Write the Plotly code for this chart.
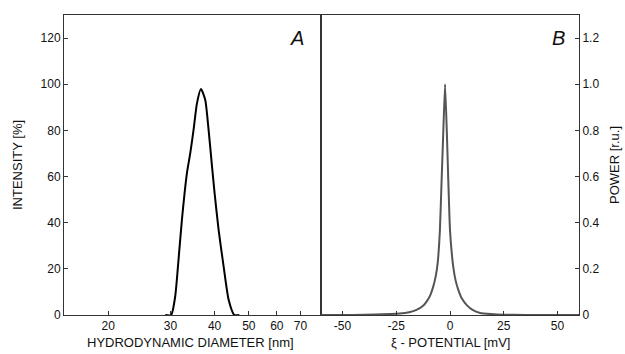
import plotly.graph_objects as go

# Panel A: DLS size distribution (intensity, %)
diameter_nm = [29.0, 30.14, 30.94, 31.62, 32.33, 33.40, 34.13, 34.88, 35.66, 36.60,
               37.64, 38.47, 39.34, 40.01, 41.07, 42.44, 43.85, 45.50, 47.0]
intensity_pct = [0, 0, 7.9, 23.8, 41.2, 61.4, 70.0, 80.2, 91.7, 97.9,
                 93.2, 80.2, 64.3, 52.7, 36.8, 20.9, 6.5, 0, 0]

# Panel B: zeta potential distribution (power, r.u.)
zeta_mV = [-60, -45, -35, -28, -23.4, -19, -15.6, -12.5, -10.9, -9.2, -7.8, -6.7, -5.75,
           -4.7, -3.9, -3.1, -2.3, -1.5, -0.8, 0.0, 1.5, 2.6, 3.9, 5.6, 7.8, 10.5,
           14.0, 19, 25, 35, 45, 60]
power_ru = [0, 0.0005, 0.002, 0.004, 0.006, 0.012, 0.022, 0.040, 0.058, 0.085, 0.123, 0.165, 0.224,
            0.368, 0.585, 0.80, 1.0, 0.80, 0.585, 0.368, 0.21, 0.15, 0.108, 0.07, 0.043, 0.022,
            0.009, 0.004, 0.001, 0.0004, 0.0002, 0]

x_ticks_a = [20, 30, 40, 50, 60, 70]
y_ticks_a = [0, 20, 40, 60, 80, 100, 120]
x_ticks_b = [-50, -25, 0, 25, 50]
y_ticks_b = [0, 0.2, 0.4, 0.6, 0.8, 1.0, 1.2]
y_ticktext_b = ["0", "0.2", "0.4", "0.6", "0.8", "1.0", "1.2"]

FONT = "Liberation Sans"
AX = "#333333"

fig = go.Figure()
fig.add_trace(go.Scatter(x=diameter_nm, y=intensity_pct, mode="lines",
                         line=dict(color="black", width=2, shape="spline", smoothing=0.6),
                         xaxis="x", yaxis="y", showlegend=False))
fig.add_trace(go.Scatter(x=zeta_mV, y=power_ru, mode="lines",
                         line=dict(color="#555555", width=2, shape="spline", smoothing=0.4),
                         xaxis="x2", yaxis="y2", showlegend=False))

W, H = 625, 354
L, R, T, B = 64, 579, 15, 315
PW, PH = R - L, B - T
split = (321 - L) / PW
common = dict(showline=True, linecolor=AX, linewidth=1, mirror=True, ticks="inside",
              ticklen=4, tickcolor=AX, showgrid=False, zeroline=False, automargin=False,
              tickfont=dict(family=FONT, size=12, color="#111"))


def px(xp):
    return (xp - L) / PW


def py(yp):
    return (B - yp) / PH


title_font = dict(family=FONT, size=13, color="#111")

fig.update_layout(
    width=W, height=H,
    margin=dict(l=L, r=W - R, t=T, b=H - B),
    paper_bgcolor="white", plot_bgcolor="white",
    font=dict(family=FONT, color="#111"),
    xaxis=dict(type="log", domain=[0, split], range=[1.1761, 1.9031],
               tickvals=x_ticks_a, ticktext=[str(v) for v in x_ticks_a],
               anchor="y", **common),
    yaxis=dict(range=[0, 130], tickvals=y_ticks_a, ticktext=[str(v) for v in y_ticks_a],
               anchor="x", **common),
    xaxis2=dict(domain=[split, 1], range=[-60, 60], tickvals=x_ticks_b,
                ticktext=[str(v) for v in x_ticks_b], anchor="y2", **common),
    yaxis2=dict(range=[0, 1.3], tickvals=y_ticks_b, ticktext=y_ticktext_b, side="right",
                anchor="x2", **common),
    annotations=[
        dict(text="<i>A</i>", xref="paper", yref="paper", x=px(306), y=py(38),
             xanchor="right", yanchor="middle", showarrow=False,
             font=dict(family=FONT, size=20, color="#111")),
        dict(text="<i>B</i>", xref="paper", yref="paper", x=px(567), y=py(38),
             xanchor="right", yanchor="middle", showarrow=False,
             font=dict(family=FONT, size=20, color="#111")),
        dict(text="HYDRODYNAMIC DIAMETER [nm]", xref="paper", yref="paper",
             x=px(190), y=py(342), xanchor="center", yanchor="middle",
             showarrow=False, font=title_font),
        dict(text="ξ - POTENTIAL [mV]", xref="paper", yref="paper",
             x=px(450), y=py(342), xanchor="center", yanchor="middle",
             showarrow=False, font=title_font),
        dict(text="INTENSITY [%]", xref="paper", yref="paper",
             x=px(17), y=py(165), xanchor="center", yanchor="middle", textangle=-90,
             showarrow=False, font=title_font),
        dict(text="POWER [r.u.]", xref="paper", yref="paper",
             x=px(614), y=py(165), xanchor="center", yanchor="middle", textangle=-90,
             showarrow=False, font=title_font),
    ],
)

fig.write_html("out.html", config={"displayModeBar": False},
               post_script="document.body.style.margin='0px';")
